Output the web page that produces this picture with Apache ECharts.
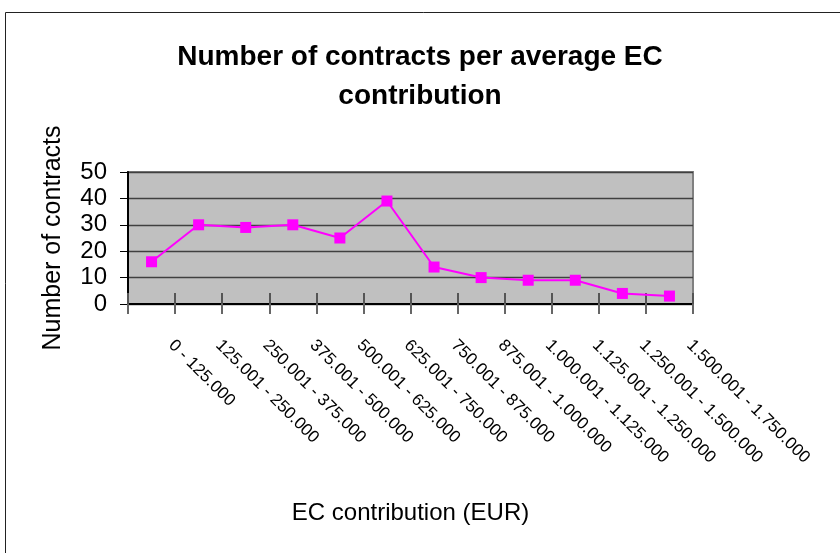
<!DOCTYPE html>
<html>
<head>
<meta charset="utf-8">
<script src="https://cdn.jsdelivr.net/npm/echarts@6/dist/echarts.min.js"></script>
<style>html,body{margin:0;padding:0;background:#fff;}#c{width:840px;height:553px;}</style>
</head>
<body>
<div id="c"></div>
<script>
var categories = ['0 - 125.000','125.001 - 250.000','250.001 - 375.000','375.001 - 500.000','500.001 - 625.000','625.001 - 750.000','750.001 - 875.000','875.001 - 1.000.000','1.000.001 - 1.125.000','1.125.001 - 1.250.000','1.250.001 - 1.500.000','1.500.001 - 1.750.000'];
var contracts = [16, 30, 29, 30, 25, 39, 14, 10, 9, 9, 4, 3];
var yTicks = {min: 0, max: 50, interval: 10};
var titleText = 'Number of contracts per average EC\ncontribution';
var xName = 'EC contribution (EUR)';
var yName = 'Number of contracts';

var FONT = '"Liberation Sans", Arial, sans-serif';
var chart = echarts.init(document.getElementById('c'), null, {renderer: 'canvas'});
chart.setOption({
  animation: false,
  backgroundColor: '#ffffff',
  title: {
    text: titleText,
    left: 'center',
    top: 33,
    textStyle: {fontFamily: FONT, fontSize: 28, fontWeight: 'bold', color: '#000', lineHeight: 39, align: 'center'}
  },
  graphic: [{
    type: 'rect', left: 3, top: 10, z: -1,
    shape: {width: 900, height: 600},
    style: {fill: 'none', stroke: '#222', lineWidth: 1}
  }],
  grid: {
    left: 128, right: 147, top: 172, bottom: 249,
    show: true, backgroundColor: '#c0c0c0', borderColor: '#808080', borderWidth: 2
  },
  xAxis: [{
    type: 'category', data: categories, boundaryGap: true,
    axisLine: {show: true, lineStyle: {color: '#000', width: 2}},
    axisTick: {show: true, interval: 0, length: 10, lineStyle: {color: '#666', width: 2}},
    axisLabel: {
      rotate: -45, interval: 0, margin: 19, color: '#000',
      fontFamily: FONT, fontSize: 17, padding: [0, 0, 0, 28]
    },
    name: xName, nameLocation: 'middle', nameGap: 197,
    nameTextStyle: {fontFamily: FONT, fontSize: 24, color: '#000'}
  }, {
    type: 'category', data: categories, boundaryGap: true, position: 'bottom',
    axisLine: {show: false},
    axisTick: {show: true, interval: 0, inside: true, length: 11, lineStyle: {color: '#555', width: 2}},
    axisLabel: {show: false}
  }],
  yAxis: {
    type: 'value', min: yTicks.min, max: yTicks.max, interval: yTicks.interval,
    axisLine: {show: true, lineStyle: {color: '#000', width: 2}},
    axisTick: {show: true, length: 8, lineStyle: {color: '#000', width: 1}},
    axisLabel: {margin: 21, color: '#000', fontFamily: FONT, fontSize: 24},
    splitLine: {show: true, lineStyle: {color: '#404040', width: 1.3}},
    name: yName, nameLocation: 'middle', nameGap: 62, nameRotate: 90,
    nameTextStyle: {fontFamily: FONT, fontSize: 25, color: '#000'}
  },
  series: [{
    type: 'line', data: contracts, xAxisIndex: 0,
    symbol: 'rect', symbolSize: 11, showSymbol: true,
    lineStyle: {color: '#ff00ff', width: 2},
    itemStyle: {color: '#ff00ff'}
  }]
});
</script>
</body>
</html>
